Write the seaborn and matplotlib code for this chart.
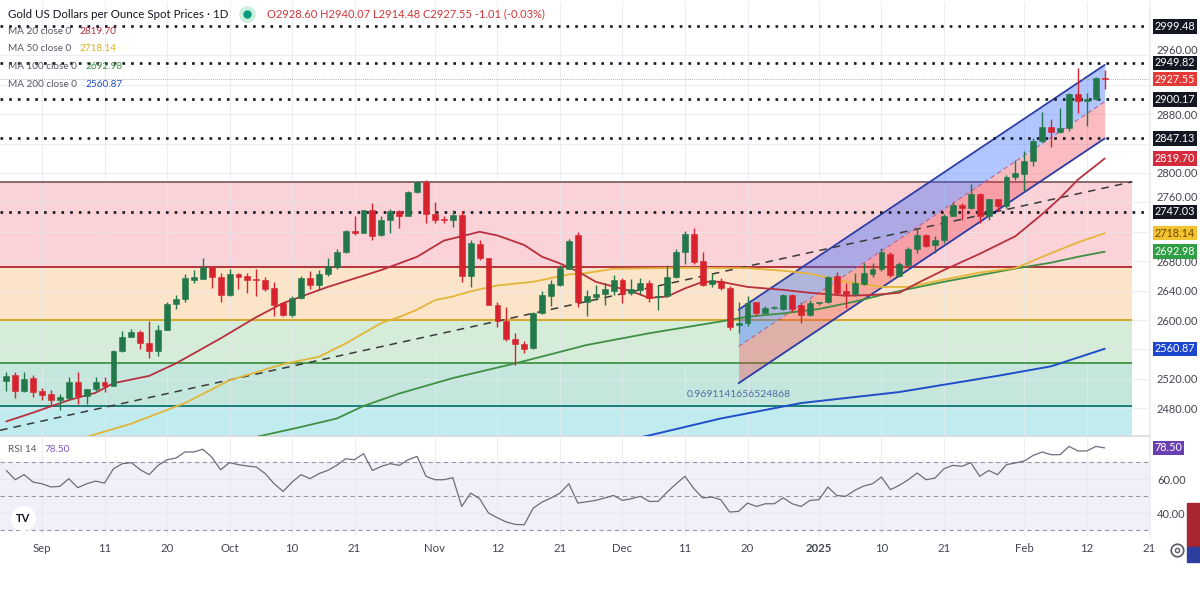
"""
Gold spot daily chart (TradingView style) with MAs, fib bands, channel and RSI.
"""

import numpy as np
import pandas as pd
import matplotlib
matplotlib.use("Agg")
import matplotlib.pyplot as plt
import seaborn as sns
from matplotlib.lines import Line2D
from matplotlib.patches import Rectangle
from matplotlib.transforms import blended_transform_factory

# ---------------------------------------------------------------- data
dates = pd.bdate_range("2024-08-27", "2025-02-14")
axis_dates = pd.bdate_range("2024-08-27", "2025-02-28")

opens = [2517, 2525, 2504, 2521, 2504, 2500, 2491, 2494, 2516, 2496,
         2506, 2516, 2510, 2558, 2577, 2583, 2569, 2558, 2586, 2622,
         2628, 2655, 2656, 2672, 2658, 2634, 2663, 2660, 2656, 2654,
         2643, 2623, 2607, 2630, 2657, 2648, 2662, 2672, 2692, 2721,
         2719, 2749, 2715, 2736, 2748, 2742, 2774, 2788, 2744, 2737,
         2736, 2743, 2660, 2704, 2684, 2621, 2599, 2574, 2567, 2562,
         2609, 2633, 2648, 2670, 2716, 2625, 2631, 2636, 2640, 2655,
         2637, 2641, 2650, 2631, 2632, 2658, 2692, 2717, 2680, 2649,
         2653, 2643, 2593, 2596, 2624, 2610, 2617, 2615, 2634, 2620,
         2607, 2623, 2624, 2660, 2639, 2635, 2649, 2662, 2670, 2690,
         2660, 2675, 2696, 2716, 2702, 2709, 2742, 2757, 2753, 2771,
         2741, 2764, 2755, 2794, 2799, 2816, 2844, 2862, 2856, 2861,
         2908, 2898, 2900, 2928.60]
highs = [2529, 2529, 2529, 2525, 2507, 2505, 2499, 2523, 2529, 2506,
         2522, 2523, 2559, 2585, 2588, 2586, 2598, 2593, 2624, 2634,
         2663, 2668, 2685, 2673, 2664, 2670, 2664, 2664, 2670, 2659,
         2652, 2625, 2632, 2660, 2666, 2668, 2684, 2696, 2723, 2741,
         2750, 2759, 2741, 2751, 2749, 2775, 2789, 2790, 2761, 2742,
         2750, 2748, 2709, 2709, 2685, 2625, 2618, 2582, 2572, 2611,
         2639, 2654, 2675, 2710, 2720, 2641, 2648, 2650, 2661, 2657,
         2656, 2657, 2655, 2648, 2675, 2696, 2721, 2725, 2693, 2663,
         2657, 2646, 2625, 2632, 2625, 2619, 2619, 2636, 2636, 2625,
         2627, 2625, 2660, 2665, 2651, 2664, 2677, 2677, 2698, 2692,
         2679, 2699, 2725, 2717, 2714, 2744, 2761, 2759, 2785, 2773,
         2765, 2765, 2797, 2817, 2830, 2848, 2883, 2873, 2888, 2909,
         2943, 2909, 2930, 2940.07]
lows = [2504, 2494, 2502, 2495, 2491, 2484, 2478, 2491, 2486, 2486,
        2504, 2502, 2510, 2557, 2577, 2561, 2548, 2551, 2586, 2615,
        2624, 2650, 2656, 2643, 2625, 2633, 2642, 2637, 2632, 2639,
        2605, 2605, 2604, 2628, 2642, 2641, 2660, 2670, 2691, 2715,
        2718, 2709, 2714, 2718, 2725, 2741, 2773, 2732, 2732, 2732,
        2726, 2652, 2645, 2681, 2620, 2591, 2572, 2539, 2555, 2561,
        2608, 2619, 2646, 2670, 2618, 2605, 2627, 2620, 2634, 2623,
        2634, 2636, 2625, 2614, 2631, 2657, 2676, 2676, 2646, 2645,
        2641, 2586, 2582, 2592, 2607, 2610, 2615, 2614, 2611, 2596,
        2605, 2621, 2623, 2636, 2616, 2633, 2648, 2659, 2666, 2659,
        2659, 2673, 2691, 2699, 2691, 2705, 2741, 2736, 2751, 2732,
        2736, 2748, 2753, 2791, 2776, 2809, 2842, 2835, 2855, 2857,
        2882, 2864, 2899, 2914.48]
closes = [2524, 2504, 2520, 2502, 2498, 2491, 2495, 2516, 2496, 2506,
          2516, 2510, 2558, 2577, 2583, 2569, 2558, 2586, 2622, 2629,
          2657, 2658, 2672, 2658, 2634, 2663, 2658, 2655, 2654, 2642,
          2620, 2607, 2630, 2657, 2648, 2662, 2673, 2693, 2721, 2718,
          2749, 2714, 2736, 2748, 2742, 2774, 2788, 2744, 2736, 2736.5,
          2743, 2660, 2705, 2684, 2621, 2599, 2574, 2567, 2561, 2610,
          2634, 2649, 2671, 2707, 2625, 2632, 2636, 2642, 2655, 2636,
          2642, 2650, 2630, 2632, 2658, 2692, 2717, 2679, 2648, 2655,
          2643, 2591, 2596, 2623, 2609, 2617, 2617.5, 2634, 2615, 2607,
          2623, 2623.5, 2659, 2637, 2635, 2650, 2664, 2670, 2692, 2661,
          2676, 2696, 2716, 2700, 2709, 2742, 2756, 2753, 2771, 2741,
          2764, 2755, 2795, 2800, 2816, 2844, 2862, 2856, 2861, 2908,
          2898, 2900, 2929, 2927.55]

rsi = [65.2, 59.7, 62.7, 58.3, 57.3, 55.4, 55.8, 60.3, 55.0, 57.3,
       58.9, 57.7, 66.2, 69.2, 69.8, 65.6, 62.7, 68.2, 71.5, 72.5,
       76.1, 76.1, 77.7, 73.1, 65.6, 69.8, 68.6, 67.8, 67.2, 63.3,
       57.3, 52.8, 58.3, 62.7, 60.3, 63.3, 65.2, 68.2, 72.1, 71.5,
       75.1, 65.2, 67.6, 69.2, 68.2, 71.5, 73.5, 61.7, 59.7, 59.7,
       60.9, 43.9, 51.8, 48.5, 40.0, 37.2, 34.7, 33.3, 33.1, 42.9,
       46.5, 48.9, 51.8, 57.3, 45.9, 46.7, 47.5, 48.9, 50.4, 47.5,
       48.5, 49.9, 46.9, 46.9, 52.4, 57.3, 61.7, 54.4, 48.9, 49.5,
       47.9, 40.6, 41.0, 45.9, 43.9, 45.5, 45.5, 49.0, 45.5, 43.9,
       47.5, 47.9, 55.4, 50.4, 49.9, 53.4, 56.0, 57.3, 61.3, 53.8,
       56.4, 59.7, 63.7, 59.7, 60.7, 66.2, 68.2, 67.6, 69.8, 61.7,
       65.2, 62.7, 68.6, 69.6, 70.8, 74.1, 76.1, 74.5, 74.5, 79.4,
       76.7, 76.7, 79.4, 78.5]

# moving averages (bar index, value)
ma20_idx = [0, 3, 7, 10, 12, 16, 19, 24, 28, 31, 36, 42, 46, 49, 52, 53, 55,
            58, 60, 62, 64, 66, 70, 72, 74, 76, 78, 80, 83, 87, 90, 94, 97,
            100, 102, 105, 109, 113, 116, 118, 120, 123]
ma20_val = [2462, 2474, 2491, 2501, 2514, 2524, 2541, 2575, 2604, 2623, 2645,
            2668, 2686, 2708, 2717, 2720, 2715, 2702, 2686, 2677, 2666, 2652,
            2639, 2630, 2632, 2643, 2652, 2652, 2645, 2641, 2637, 2633, 2634,
            2637, 2650, 2668, 2690, 2714, 2744, 2766, 2791, 2819.70]
ma50_idx = [5, 9, 14, 20, 25, 31, 35, 38, 42, 44, 46, 48, 50, 52, 55, 59, 63,
            65, 68, 76, 83, 87, 90, 94, 98, 101, 105, 109, 113, 117, 120, 123]
ma50_val = [2430, 2441, 2459, 2487, 2518, 2540, 2550, 2568, 2596, 2604, 2614,
            2627, 2632, 2639, 2647, 2652, 2662, 2664, 2669.6, 2671, 2670.5,
            2667, 2663, 2652, 2645, 2645, 2655, 2664.6, 2670.5, 2691, 2705.5,
            2718.14]
ma100_idx = [26, 28, 33, 37, 40, 44, 50, 57, 65, 72, 80, 83, 87, 91, 95, 98,
             101, 105, 109, 113, 117, 120, 123]
ma100_val = [2436, 2441, 2454.5, 2466, 2483, 2500, 2521, 2541, 2566, 2582,
             2598, 2604.5, 2609, 2615, 2625, 2634, 2642, 2652, 2661, 2670,
             2678, 2686, 2692.98]
ma200_idx = [70, 72, 80, 89, 100, 111, 117, 123]
ma200_val = [2438, 2443, 2466, 2487, 2502, 2524, 2537, 2560.87]

# drawings
fib_levels = [2788, 2672, 2600, 2541, 2483]
fib_span = [-1, 126.1]
trend_idx = [-0.7, 126.1]
trend_price = [2450, 2788]
chan_idx = [82, 123]
chan_mid = [2564, 2897]
chan_half = 50
chan_r = "0.9691141656524868"
key_levels = [2999.48, 2949.82, 2900.17, 2847.13, 2747.03]
last_price = 2927.55

price_ticks = [2480, 2520, 2600, 2640, 2680, 2800, 2880]
crowded_ticks = [2760, 2960]   # sit right above a price tag

tick_days = ["2024-09-02", "2024-09-11", "2024-09-20", "2024-10-01",
             "2024-10-10", "2024-10-21", "2024-11-01", "2024-11-12",
             "2024-11-21", "2024-12-02", "2024-12-11", "2024-12-20",
             "2025-01-01", "2025-01-10", "2025-01-21", "2025-02-03",
             "2025-02-12", "2025-02-21"]
tick_labels = ["Sep", "11", "20", "Oct", "10", "21", "Nov", "12", "21",
               "Dec", "11", "20", "2025", "10", "21", "Feb", "12", "21"]

# ---------------------------------------------------------------- style
sns.set_theme(style="white")
plt.rcParams['font.family'] = ['Lato', 'DejaVu Sans']

UP, DOWN = "#22784a", "#d7232d"
C20, C50, C100, C200 = "#b8303f", "#e3b53a", "#3f8f45", "#1f4fc8"
TXT = "#434651"

W, H = 1200, 589


def fx(x):
    return x / W


def fy(y):
    return 1 - y / H


fig = plt.figure(figsize=(12, 5.89), dpi=100)
ax = fig.add_axes([0, fy(436), fx(1150), 434 / H])
ax_rsi = fig.add_axes([0, fy(537), fx(1150), 100 / H], sharex=ax)

idx = np.arange(len(dates))
xmin, xmax = -0.705, 128.07
ax.set_xlim(xmin, xmax)
ax.set_ylim(2442.2, 3032.6)
ax_rsi.set_ylim(25.86, 84.95)

# ---------------------------------------------------------------- fib bands
band_cols = ["#fad2d7", "#fce4c8", "#d5ecd8", "#c4e6dc", "#c0ecf0"]
line_cols = ["#8a6a6e", "#b0363a", "#d4a72c", "#4b9a4f", "#1f7f78"]
edges = fib_levels + [2400]
for k in range(len(fib_levels)):
    ax.fill_between(fib_span, edges[k + 1], edges[k], color=band_cols[k],
                    lw=0, zorder=0.8)
for lvl, c in zip(fib_levels, line_cols):
    ax.hlines(lvl, fib_span[0], fib_span[1], color=c, lw=1.4, zorder=1.7)

# grid
tick_pos = [axis_dates.get_loc(pd.Timestamp(d)) for d in tick_days]
for a in (ax, ax_rsi):
    for p in tick_pos:
        a.axvline(p, color="#e6e8ee", lw=0.8, alpha=0.7, zorder=1.2)
for p in np.arange(2480, 2961, 40):
    ax.axhline(p, color="#e6e8ee", lw=0.8, alpha=0.7, zorder=1.2)

# ---------------------------------------------------------------- drawings
ax.plot(trend_idx, trend_price, color="#3a3a3a", lw=1.1,
        ls=(0, (5, 4)), zorder=2.4)

mid = np.array(chan_mid)
ax.fill_between(chan_idx, mid, mid + chan_half, color="#2962ff", alpha=0.36,
                lw=0, zorder=2)
ax.fill_between(chan_idx, mid - chan_half, mid, color="#f23645", alpha=0.33,
                lw=0, zorder=2)
ax.plot(chan_idx, mid + chan_half, color="#2b3ca6", lw=1.3, zorder=2.6)
ax.plot(chan_idx, mid - chan_half, color="#2b3ca6", lw=1.3, zorder=2.6)
ax.plot(chan_idx, mid, color="#c8607e", lw=0.8, ls=(0, (4, 3)), zorder=2.6)
ax.text(chan_idx[0], mid[0] - chan_half - 16, chan_r, ha="center",
        va="center", fontsize=7.5, color="#4a6fa5", zorder=5)

for lvl in key_levels:
    ax.axhline(lvl, color="#131722", lw=1.9, ls=(0, (1, 2.3)), zorder=2.8)
ax.axhline(last_price, color="#9a9a9a", lw=0.6, ls=(0, (1, 1.5)), zorder=2.8)

# ---------------------------------------------------------------- moving averages
sns.lineplot(x=ma200_idx, y=ma200_val, ax=ax, color=C200, lw=1.4, zorder=3.2)
sns.lineplot(x=ma100_idx, y=ma100_val, ax=ax, color=C100, lw=1.3, zorder=3.3)
sns.lineplot(x=ma50_idx, y=ma50_val, ax=ax, color=C50, lw=1.3, zorder=3.4)
sns.lineplot(x=ma20_idx, y=ma20_val, ax=ax, color=C20, lw=1.3, zorder=3.5)

# ---------------------------------------------------------------- candles
o = np.array(opens, dtype=float)
c = np.array(closes, dtype=float)
cols = [UP if cc >= oo else DOWN for oo, cc in zip(o, c)]
bottoms = np.minimum(o, c)
heights = np.maximum(np.abs(c - o), 1.3)
ax.vlines(idx, lows, highs, colors=cols, lw=1.0, zorder=4)
ax.bar(idx, heights, bottom=bottoms, width=0.66, color=cols,
       edgecolor=cols, lw=0.4, zorder=4.1)

# ---------------------------------------------------------------- RSI pane
ax_rsi.fill_between([xmin, xmax], 30, 70, color="#7e57c2", alpha=0.09,
                    lw=0, zorder=0.5)
for lvl in (70, 50, 30):
    ax_rsi.axhline(lvl, color="#9598a1", lw=0.8, ls=(0, (4, 3)), zorder=1.5)
for lvl in (40, 60):
    ax_rsi.axhline(lvl, color="#e6e8ee", lw=0.8, zorder=1.2)
sns.lineplot(x=idx, y=rsi, ax=ax_rsi, color="#6e6a7c", lw=0.9, zorder=3)

# ---------------------------------------------------------------- axes cosmetics
for a in (ax, ax_rsi):
    for s in a.spines.values():
        s.set_visible(False)
    a.set_xlabel("")
    a.set_ylabel("")
    a.yaxis.tick_right()
    a.tick_params(axis="y", length=0, pad=5, labelsize=8, labelcolor=TXT)
ax.spines["bottom"].set_visible(True)
ax.spines["bottom"].set_color("#d9dbe1")
ax.spines["right"].set_visible(True)
ax.spines["right"].set_color("#eceef2")
ax_rsi.spines["right"].set_visible(True)
ax_rsi.spines["right"].set_color("#eceef2")

ax.set_yticks(price_ticks)
ax.set_yticklabels([f"{v:.2f}" for v in price_ticks])
ax.tick_params(axis="x", labelbottom=False, length=0)
ax_rsi.set_yticks([40, 60])
ax_rsi.set_yticklabels(["40.00", "60.00"])
ax_rsi.set_xticks(tick_pos)
ax_rsi.set_xticklabels(tick_labels)
ax_rsi.tick_params(axis="x", length=0, pad=4, labelsize=8.2, labelcolor=TXT)
for lab in ax_rsi.get_xticklabels():
    if lab.get_text() == "2025":
        lab.set_fontweight("bold")
ax.set_xlim(xmin, xmax)

# tick labels that sit just above a tag, nudged up a few pixels
ytr = blended_transform_factory(ax.transAxes, ax.transData)
for v in crowded_ticks:
    ax.annotate(f"{v:.2f}", xy=(1, v), xycoords=ytr, xytext=(5, 3.5),
                textcoords="offset points", fontsize=8, color=TXT,
                ha="left", va="center", annotation_clip=False, clip_on=False)


def price_tag(axis, value, text, face, ink="white"):
    tr = blended_transform_factory(axis.transAxes, axis.transData)
    axis.text(1.004, value, text, transform=tr, ha="left", va="center",
              fontsize=7.8, color=ink, clip_on=False, zorder=10,
              bbox=dict(boxstyle="square,pad=0.16", fc=face, ec="none"))


for lvl in key_levels:
    price_tag(ax, lvl, f"{lvl:.2f}", "#131722")
price_tag(ax, last_price, f"{last_price:.2f}", "#e53935")
price_tag(ax, ma20_val[-1], f"{ma20_val[-1]:.2f}", "#d42a3c")
price_tag(ax, ma50_val[-1], f"{ma50_val[-1]:.2f}", "#f2c230", "#6b4a00")
price_tag(ax, ma100_val[-1], f"{ma100_val[-1]:.2f}", "#2f9e44")
price_tag(ax, ma200_val[-1], f"{ma200_val[-1]:.2f}", "#1c46d0")
price_tag(ax_rsi, rsi[-1], f"{rsi[-1]:.2f}", "#6a40b0")

# ---------------------------------------------------------------- legends
fig.text(fx(8), fy(14), "Gold US Dollars per Ounce Spot Prices · 1D",
         fontsize=8.3, color="#131722", va="center")
fig.add_artist(Line2D([fx(247)], [fy(14)], marker="o", ms=11, color="#cdeedd",
                      transform=fig.transFigure))
fig.add_artist(Line2D([fx(247)], [fy(14)], marker="o", ms=5, color="#089981",
                      transform=fig.transFigure))
fig.text(fx(267), fy(14),
         f"O{opens[-1]:.2f} H{highs[-1]:.2f} L{lows[-1]:.2f} "
         f"C{closes[-1]:.2f} -1.01 (-0.03%)",
         fontsize=8, color="#d13438", va="center")


def legend_row(pane, y, name, value, colour):
    label = fig.text(fx(8), fy(y), name, fontsize=7.2, color="#555a66",
                     va="center")
    pane.annotate(value, xy=(1, 0.5), xycoords=label, xytext=(6, 0),
                  textcoords="offset points", fontsize=7.2, color=colour,
                  va="center", annotation_clip=False, clip_on=False,
                  zorder=12)


ma_rows = [("MA 20 close 0", ma20_val[-1], C20),
           ("MA 50 close 0", ma50_val[-1], "#e0b020"),
           ("MA 100 close 0", ma100_val[-1], C100),
           ("MA 200 close 0", ma200_val[-1], C200)]
for k, (name, val, col) in enumerate(ma_rows):
    legend_row(ax, 31 + k * 17.7, name, f"{val:.2f}", col)
legend_row(ax_rsi, 450, "RSI 14", f"{rsi[-1]:.2f}", "#7e57c2")

# logo, settings icon and side strip
fig.add_artist(Line2D([fx(23)], [fy(518)], marker="o", ms=17, color="white",
                      transform=fig.transFigure))
fig.text(fx(23), fy(518), "TV", fontsize=8, fontweight="bold",
         color="#131722", ha="center", va="center")
fig.add_artist(Line2D([fx(1177)], [fy(550)], marker="o", ms=9, mfc="none",
                      mec="#555a66", mew=1.2, transform=fig.transFigure))
fig.add_artist(Line2D([fx(1177)], [fy(550)], marker="o", ms=3, mfc="none",
                      mec="#555a66", mew=1.0, transform=fig.transFigure))
fig.add_artist(Rectangle((fx(1187), fy(547)), fx(13), 44 / H,
                         color="#a8262f", transform=fig.transFigure))
fig.add_artist(Rectangle((fx(1187), fy(562)), fx(13), 15 / H,
                         color="#2c3f9e", transform=fig.transFigure))

fig.savefig("out.png", dpi=100)
